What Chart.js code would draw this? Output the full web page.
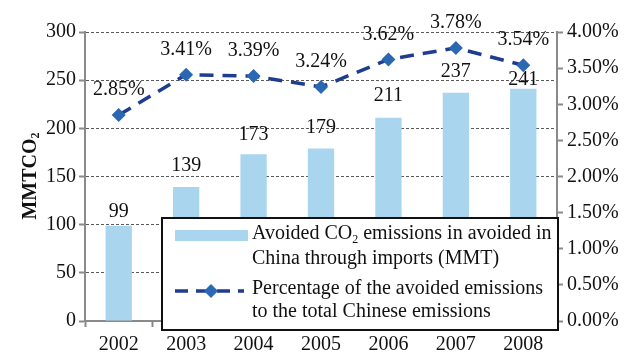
<!DOCTYPE html>
<html>
<head>
<meta charset="utf-8">
<script src="https://cdn.jsdelivr.net/npm/chart.js@4.4.0/dist/chart.umd.min.js"></script>
<style>
  html, body { margin: 0; padding: 0; background: #fff; }
</style>
</head>
<body>
<canvas id="c" width="631" height="357"></canvas>
<script>
// Years on the category axis
const years = ['2002', '2003', '2004', '2005', '2006', '2007', '2008'];
// Avoided CO2 emissions through imports, MMT
const avoidedMMT = [99, 139, 173, 179, 211, 237, 241];
// Share of the avoided emissions in total Chinese emissions, %
const sharePct = [2.85, 3.41, 3.39, 3.24, 3.62, 3.78, 3.54];
// Axis ranges and steps
const leftAxis = { min: 0, max: 300, step: 50 };
const rightAxis = { min: 0, max: 4, step: 0.5 };

// Vertical gap (px) between each bar top and its value label
const barLabelRaise = [14, 21, 20, 21, 22, 21, 9];
const lineLabelRaise = 25;

const SERIF = '"Liberation Serif", "Times New Roman", serif';
const FS = 20;
const BAR_COLOR = '#a9d5ee';
const LINE_COLOR = '#1f3d8f';
const MARK_COLOR = '#2b68b3';
const AXIS_COLOR = '#8a8a8a';

// Draws text with a subscript part: pieces = [[text, isSub], ...]
function drawRich(ctx, pieces, x, y, size) {
  let cx = x;
  for (const [t, sub] of pieces) {
    ctx.font = (sub ? Math.round(size * 0.62) : size) + 'px ' + SERIF;
    ctx.fillText(t, cx, sub ? y + size * 0.28 : y);
    cx += ctx.measureText(t).width;
  }
}
function richWidth(ctx, pieces, size, weight) {
  let w = 0;
  for (const [t, sub] of pieces) {
    ctx.font = (weight || '') + ' ' + (sub ? Math.round(size * 0.62) : size) + 'px ' + SERIF;
    w += ctx.measureText(t).width;
  }
  return w;
}

const valueLabels = {
  id: 'valueLabels',
  afterDatasetsDraw(chart) {
    const ctx = chart.ctx;
    ctx.save();
    ctx.fillStyle = '#111';
    ctx.textAlign = 'center';
    ctx.textBaseline = 'middle';
    ctx.font = FS + 'px ' + SERIF;
    chart.getDatasetMeta(0).data.forEach((bar, i) => {
      ctx.fillText(String(avoidedMMT[i]), bar.x, bar.y - barLabelRaise[i]);
    });
    chart.getDatasetMeta(1).data.forEach((pt, i) => {
      ctx.fillText(sharePct[i].toFixed(2) + '%', pt.x, pt.y - lineLabelRaise);
    });
    ctx.restore();
  }
};

const boxLegend = {
  id: 'boxLegend',
  afterDraw(chart) {
    const ctx = chart.ctx;
    const bx = 162, by = 218, bw = 396, bh = 112;
    ctx.save();
    ctx.fillStyle = '#fff';
    ctx.fillRect(bx, by, bw, bh);
    ctx.strokeStyle = '#111';
    ctx.lineWidth = 2;
    ctx.strokeRect(bx, by, bw, bh);

    // bar entry
    ctx.fillStyle = BAR_COLOR;
    ctx.fillRect(175, 230, 73, 11);
    ctx.fillStyle = '#111';
    ctx.textAlign = 'left';
    ctx.textBaseline = 'middle';
    drawRich(ctx, [['Avoided CO', false], ['2', true], [' emissions in avoided in', false]], 252, 234, FS);
    drawRich(ctx, [['China through imports (MMT)', false]], 252, 259, FS);

    // line entry
    ctx.strokeStyle = LINE_COLOR;
    ctx.lineWidth = 3.5;
    ctx.setLineDash([13, 8]);
    ctx.beginPath();
    ctx.moveTo(175, 291);
    ctx.lineTo(244, 291);
    ctx.stroke();
    ctx.setLineDash([]);
    ctx.fillStyle = MARK_COLOR;
    ctx.beginPath();
    ctx.moveTo(211, 284); ctx.lineTo(218, 291); ctx.lineTo(211, 298); ctx.lineTo(204, 291);
    ctx.closePath();
    ctx.fill();
    ctx.fillStyle = '#111';
    drawRich(ctx, [['Percentage of the avoided emissions', false]], 252, 289, FS);
    drawRich(ctx, [['to the total Chinese emissions', false]], 252, 312, FS);

    // rotated left axis title
    const pieces = [['MMTCO', false], ['2', true]];
    const w = richWidth(ctx, pieces, FS, 'bold');
    ctx.translate(31, 176);
    ctx.rotate(-Math.PI / 2);
    ctx.textBaseline = 'middle';
    let cx = -w / 2;
    for (const [t, sub] of pieces) {
      ctx.font = 'bold ' + (sub ? Math.round(FS * 0.62) : FS) + 'px ' + SERIF;
      ctx.fillText(t, cx, sub ? 5 : 0);
      cx += ctx.measureText(t).width;
    }
    ctx.restore();
  }
};

new Chart(document.getElementById('c'), {
  data: {
    labels: years,
    datasets: [
      {
        type: 'bar',
        label: 'Avoided CO2 emissions in avoided in China through imports (MMT)',
        data: avoidedMMT,
        backgroundColor: BAR_COLOR,
        yAxisID: 'y',
        categoryPercentage: 1,
        barPercentage: 0.39,
        order: 2
      },
      {
        type: 'line',
        label: 'Percentage of the avoided emissions to the total Chinese emissions',
        data: sharePct,
        yAxisID: 'y2',
        borderColor: LINE_COLOR,
        borderWidth: 3.5,
        borderDash: [14, 9],
        pointStyle: 'rectRot',
        pointRadius: 7,
        pointBackgroundColor: MARK_COLOR,
        pointBorderColor: MARK_COLOR,
        pointBorderWidth: 0,
        tension: 0,
        order: 1
      }
    ]
  },
  options: {
    responsive: false,
    animation: false,
    devicePixelRatio: 1,
    layout: { padding: { top: 32, left: 0, right: 0, bottom: 0 } },
    plugins: { legend: { display: false }, tooltip: { enabled: false } },
    scales: {
      x: {
        offset: true,
        grid: { display: true, drawOnChartArea: false, offset: true, tickLength: 6, tickColor: AXIS_COLOR, tickWidth: 2 },
        border: { color: AXIS_COLOR, width: 2 },
        ticks: { color: '#111', font: { family: SERIF, size: FS }, padding: 6 },
        afterFit: s => { s.height = 36; }
      },
      y: {
        position: 'left',
        min: leftAxis.min,
        max: leftAxis.max,
        ticks: { stepSize: leftAxis.step, color: '#111', font: { family: SERIF, size: FS }, padding: 3 },
        grid: {
          color: c => (c.tick && c.tick.value === 0 ? 'rgba(0,0,0,0)' : '#5a5a5a'),
          lineWidth: 1,
          tickLength: 6,
          tickColor: AXIS_COLOR,
          tickWidth: 2,
          tickBorderDash: []
        },
        border: { color: AXIS_COLOR, width: 2, dash: [3, 2] },
        afterFit: s => { s.width = 85; }
      },
      y2: {
        position: 'right',
        min: rightAxis.min,
        max: rightAxis.max,
        ticks: {
          stepSize: rightAxis.step,
          color: '#111',
          font: { family: SERIF, size: FS },
          padding: 4,
          callback: v => v.toFixed(2) + '%'
        },
        grid: { drawOnChartArea: false, tickLength: 6, tickColor: AXIS_COLOR, tickWidth: 2 },
        border: { color: AXIS_COLOR, width: 2 },
        afterFit: s => { s.width = 74; }
      }
    }
  },
  plugins: [valueLabels, boxLegend]
});
</script>
</body>
</html>
